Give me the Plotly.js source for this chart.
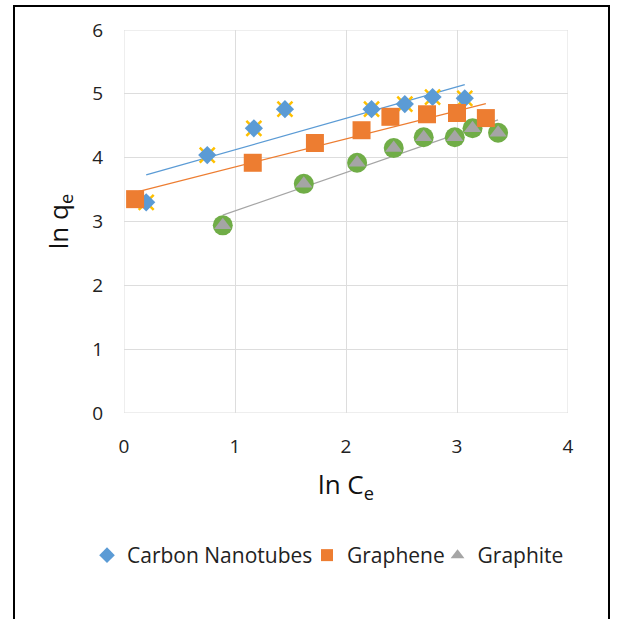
<!DOCTYPE html>
<html>
<head>
<meta charset="utf-8">
<script src="https://cdn.plot.ly/plotly-3.0.1.min.js"></script>
<style>
html,body{margin:0;padding:0;background:#fff;}
#wrap{position:relative;width:618px;height:619px;overflow:hidden;}
#chart{position:absolute;left:0;top:0;width:618px;height:619px;}
#frame{position:absolute;left:13px;top:5px;width:597px;height:640px;border:2px solid #000;pointer-events:none;box-sizing:border-box;}
</style>
</head>
<body>
<div id="wrap"><div id="chart"></div><div id="frame"></div></div>
<script>
// Data
const seriesNames = ["Carbon Nanotubes", "Graphene", "Graphite"];
const cntX = [0.20, 0.75, 1.17, 1.45, 2.23, 2.53, 2.78, 3.07];
const cntY = [3.30, 4.04, 4.46, 4.76, 4.76, 4.84, 4.95, 4.93];
const grapheneX = [0.10, 1.16, 1.72, 2.14, 2.40, 2.73, 3.00, 3.26];
const grapheneY = [3.35, 3.92, 4.23, 4.43, 4.64, 4.68, 4.70, 4.62];
const graphiteX = [0.89, 1.62, 2.10, 2.43, 2.70, 2.98, 3.14, 3.37];
const graphiteY = [2.94, 3.59, 3.92, 4.15, 4.32, 4.32, 4.46, 4.39];
const xTicks = [0, 1, 2, 3, 4];
const yTicks = [0, 1, 2, 3, 4, 5, 6];

const colors = {cnt:"#5B9BD5", graphene:"#ED7D31", graphite:"#A5A5A5", yellow:"#FFC000", green:"#70AD47"};

function fit(xs, ys){
  const n = xs.length;
  const mx = xs.reduce((a,b)=>a+b,0)/n, my = ys.reduce((a,b)=>a+b,0)/n;
  let sxy=0, sxx=0;
  for(let i=0;i<n;i++){ sxy+=(xs[i]-mx)*(ys[i]-my); sxx+=(xs[i]-mx)*(xs[i]-mx); }
  const b = sxy/sxx, a = my - b*mx;
  const x0 = Math.min(...xs), x1 = Math.max(...xs);
  return {x:[x0,x1], y:[a+b*x0, a+b*x1]};
}
function trend(xs, ys, color){
  const f = fit(xs, ys);
  return {x:f.x, y:f.y, mode:"lines", line:{color:color, width:1.3}, showlegend:false, hoverinfo:"skip"};
}

const traces = [
  trend(cntX, cntY, colors.cnt),
  trend(grapheneX, grapheneY, colors.graphene),
  trend(graphiteX, graphiteY, colors.graphite),
  {x:cntX, y:cntY, mode:"markers", showlegend:false,
   marker:{symbol:"x-thin-open", size:15, color:colors.yellow, line:{color:colors.yellow, width:2.5}}},
  {x:graphiteX, y:graphiteY, mode:"markers", showlegend:false,
   marker:{symbol:"circle", size:20, color:colors.green}},
  {x:cntX, y:cntY, mode:"markers", name:seriesNames[0], legend:"legend",
   marker:{symbol:"diamond", size:14, color:colors.cnt}},
  {x:grapheneX, y:grapheneY, mode:"markers", name:seriesNames[1], legend:"legend2",
   marker:{symbol:"square", size:18, color:colors.graphene}},
  {x:graphiteX, y:graphiteY, mode:"markers", name:seriesNames[2], legend:"legend3",
   marker:{symbol:"triangle-up", size:15, color:colors.graphite}}
];

const fontFam = "'Open Sans', sans-serif";
const legendFont = {size:21, family:fontFam, color:"#222"};
function leg(x){
  return {orientation:"h", x:x, xanchor:"left", y:-0.372, yanchor:"middle",
          font:legendFont, itemwidth:30, itemsizing:"constant",
          bgcolor:"rgba(0,0,0,0)", borderwidth:0};
}
const gridC = "#DDDDDD";
const layout = {
  width:618, height:619,
  margin:{l:124, r:50, t:30, b:206},
  paper_bgcolor:"#fff", plot_bgcolor:"#fff",
  font:{family:fontFam, color:"#222"},
  showlegend:true,
  legend:leg(-0.0833),
  legend2:leg(0.4122),
  legend3:leg(0.7062),
  xaxis:{range:[0,4], tickvals:xTicks, ticktext:xTicks.map(String),
         showgrid:true, gridcolor:gridC, gridwidth:1, zeroline:false, showline:false,
         ticks:"outside", ticklen:16, tickcolor:"rgba(0,0,0,0)",
         tickfont:{size:19, family:fontFam, color:"#222"},
         title:{text:"ln C<sub>e</sub>", font:{size:26, family:fontFam, color:"#111"}, standoff:18}},
  yaxis:{range:[0,6], tickvals:yTicks, ticktext:yTicks.map(String),
         showgrid:true, gridcolor:gridC, gridwidth:1, zeroline:false, showline:false,
         ticks:"outside", ticklen:16, tickcolor:"rgba(0,0,0,0)",
         tickfont:{size:19, family:fontFam, color:"#222"},
         title:{text:"ln q<sub>e</sub>", font:{size:26, family:fontFam, color:"#111"}, standoff:16}},
  shapes:[
    {type:"rect", xref:"x", yref:"y", x0:0, x1:4, y0:0, y1:6, line:{color:gridC, width:1}, layer:"below"}
  ]
};

Plotly.newPlot("chart", traces, layout, {displayModeBar:false, staticPlot:true});
</script>
</body>
</html>
